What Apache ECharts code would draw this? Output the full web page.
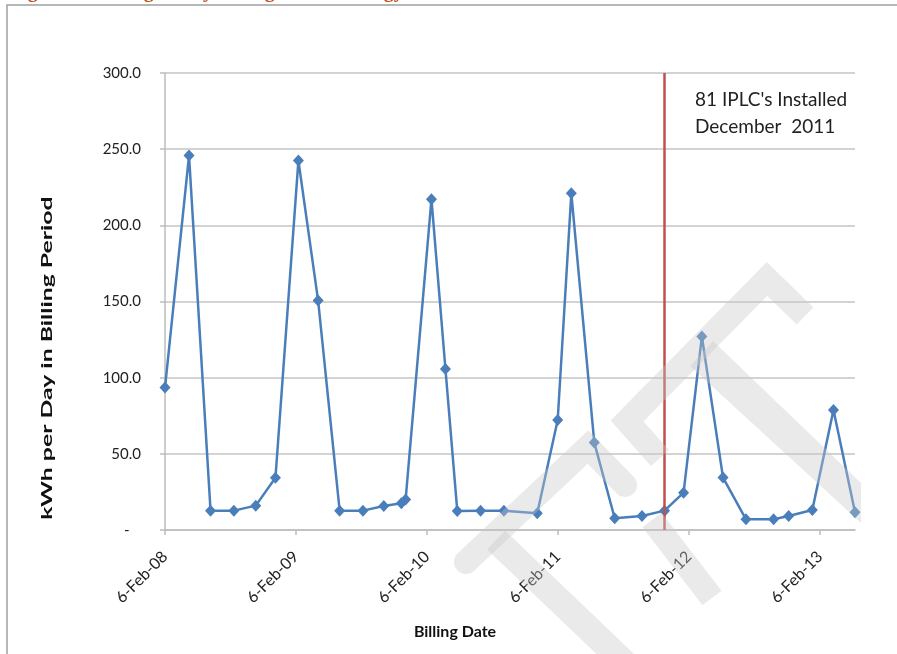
<!DOCTYPE html>
<html>
<head>
<meta charset="utf-8">
<script src="https://cdn.jsdelivr.net/npm/echarts@6/dist/echarts.min.js"></script>
<style>
  html, body { margin:0; padding:0; background:#fff; }
  #chart { width:897px; height:654px; }
</style>
</head>
<body>
<div id="chart"></div>
<script>
// billing periods
const billingDates = ['2008-02-06','2008-04-13','2008-06-12','2008-08-16','2008-10-16','2008-12-10',
    '2009-02-12','2009-04-08','2009-06-07','2009-08-11','2009-10-08','2009-11-26','2009-12-08',
    '2010-02-18','2010-03-29','2010-05-01','2010-07-05','2010-09-08','2010-12-10',
    '2011-02-05','2011-03-15','2011-05-18','2011-07-14','2011-09-28','2011-11-30',
    '2012-01-22','2012-03-13','2012-05-11','2012-07-14','2012-09-29','2012-11-10',
    '2013-01-15','2013-03-15','2013-05-14'];
const kwhPerDay = [93.5,245.8,12.7,12.7,16.0,34.3,
    242.5,150.6,12.7,12.7,15.8,17.5,20.1,
    217.2,105.7,12.5,12.7,12.7,11.0,
    72.2,221.0,57.4,7.7,9.2,12.7,
    24.5,127.0,34.4,7.0,7.0,9.2,
    13.1,78.8,11.6];
const xTickLabels = ['6-Feb-08','6-Feb-09','6-Feb-10','6-Feb-11','6-Feb-12','6-Feb-13'];
const installDate = '2011-11-30';
const installNote = ["81 IPLC's Installed", 'December  2011'];

const startDate = '2008-02-06';
const endDate = '2013-05-14';
const YEAR = 365.25;

function dayOf(s){
    let p = s.split('-').map(Number);
    let b = startDate.split('-').map(Number);
    return (Date.UTC(p[0], p[1]-1, p[2]) - Date.UTC(b[0], b[1]-1, b[2])) / 86400000;
}

const seriesData = billingDates.map((d,i)=>[dayOf(d), kwhPerDay[i]]);
const font = 'Lato, "Open Sans", sans-serif';
const wm = 'rgba(200,200,200,0.38)';

let myChart = echarts.init(document.getElementById('chart'));
let option = {
    animation:false,
    grid:{ left:165, right:42, top:73, bottom:124 },
    xAxis:{
        type:'value',
        min:0,
        max:dayOf(endDate),
        interval:YEAR,
        splitLine:{ show:false },
        axisLine:{ lineStyle:{ color:'#bdbdbd', width:1.5 } },
        axisTick:{ show:true, length:5, lineStyle:{ color:'#bdbdbd', width:1.5 } },
        axisLabel:{
            rotate:45,
            margin:24,
            showMaxLabel:false,
            fontFamily:font,
            fontSize:16,
            color:'#222',
            formatter:v=>{
                let i = Math.round(v/YEAR);
                return Math.abs(v - i*YEAR) < 1 ? (xTickLabels[i] || '') : '';
            }
        }
    },
    yAxis:{
        type:'value',
        min:0,
        max:300,
        interval:50,
        axisLine:{ show:true, lineStyle:{ color:'#bdbdbd', width:1.5 } },
        axisTick:{ show:true, length:5, lineStyle:{ color:'#bdbdbd', width:1.5 } },
        splitLine:{ lineStyle:{ color:'#c4c4c4', width:1.5 } },
        axisLabel:{
            margin:24,
            fontFamily:font,
            fontSize:15,
            color:'#222',
            formatter:v=> v === 0 ? '-   ' : v.toFixed(1)
        }
    },
    series:[{
        type:'line',
        data:seriesData,
        symbol:'diamond',
        symbolSize:[11,12],
        lineStyle:{ color:'#4a7ebb', width:2.5 },
        itemStyle:{ color:'#4a7ebb' },
        markLine:{
            silent:true,
            symbol:'none',
            label:{ show:false },
            lineStyle:{ color:'#c0504d', width:2.5, type:'solid' },
            data:[ { xAxis:dayOf(installDate) } ]
        }
    }],
    graphic:[
        { type:'rect', shape:{ x:7, y:5, width:1000, height:1000 }, style:{ fill:'none', stroke:'#a0a0a0', lineWidth:1.5 }, silent:true },
        { type:'text', x:10, y:1.5, style:{ text:'Figure 3: Average Daily Billing Period Energy', font:'bold 20px "Liberation Serif"', fill:'#c0501a', verticalAlign:'bottom' } },
        { type:'text', x:47, y:358, rotation:Math.PI/2, scaleX:1.55, style:{ text:'kWh per Day in Billing Period', font:'bold 16px ' + font, fill:'#111', align:'center', verticalAlign:'middle' } },
        { type:'text', x:455, y:632, style:{ text:'Billing Date', font:'bold 16px ' + font, fill:'#111', align:'center', verticalAlign:'middle' } },
        { type:'text', x:695, y:100, style:{ text:installNote[0], font:'19px ' + font, fill:'#222', verticalAlign:'middle' } },
        { type:'text', x:695, y:127, style:{ text:installNote[1], font:'19px ' + font, fill:'#222', verticalAlign:'middle' } },
        // faint watermark over the plot
        { type:'polyline', z:100, silent:true, shape:{ points:[[660,458],[627,421],[767,279],[805,316]] }, style:{ stroke:wm, lineWidth:24, fill:'none' } },
        { type:'polyline', z:100, silent:true, shape:{ points:[[466,562],[588,447],[625,485]] }, style:{ stroke:wm, lineWidth:24, fill:'none', lineCap:'round' } },
        { type:'polygon', z:100, silent:true, shape:{ points:[[690,366],[713,341],[861,483],[861,523]] }, style:{ fill:wm } },
        { type:'line', z:100, silent:true, shape:{ x1:496, y1:540, x2:632, y2:670 }, style:{ stroke:wm, lineWidth:26 } },
        { type:'line', z:100, silent:true, shape:{ x1:652, y1:520, x2:712, y2:598 }, style:{ stroke:wm, lineWidth:24 } }
    ]
};
myChart.setOption(option);
</script>
</body>
</html>
